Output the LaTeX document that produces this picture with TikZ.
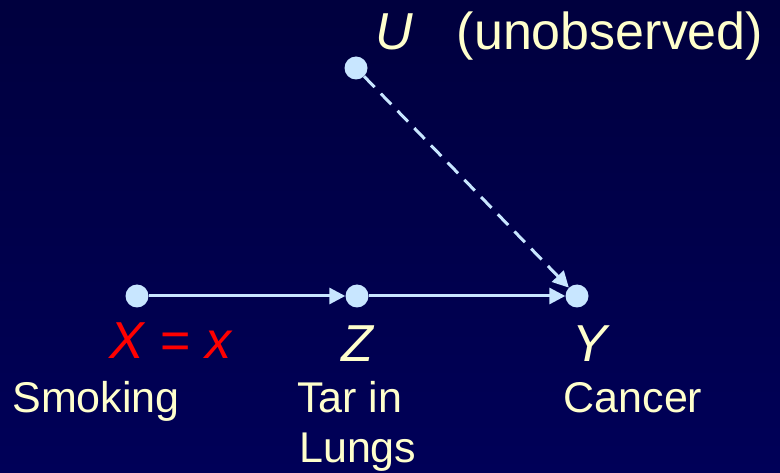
\documentclass[tikz,border=0pt]{standalone}
\usepackage{fontspec}
\setmainfont{Liberation Sans}
\usetikzlibrary{arrows.meta}
\definecolor{slidetop}{HTML}{00003E}
\definecolor{slidebot}{HTML}{000058}
\definecolor{nodeblue}{HTML}{C8E6FF}
\definecolor{labelcream}{HTML}{FFFFCC}

\begin{document}
\begin{tikzpicture}[x=1pt, y=-1pt,
  var/.style={circle, fill=nodeblue, inner sep=0pt, minimum size=23pt},
  link/.style={nodeblue, line width=3pt, -{Triangle[length=16pt, width=16pt]}},
  lbl/.style={text=labelcream, inner sep=0pt, anchor=base},
  biglbl/.style={lbl, font=\fontsize{52}{60}\selectfont},
  smalllbl/.style={lbl, font=\fontsize{43}{49}\selectfont}]

  % ---------- background ----------
  \fill[top color=slidetop, bottom color=slidebot] (0,0) rectangle (780,473);
  \useasboundingbox (0,0) rectangle (780,473);

  % ---------- variables ----------
  \node[var] (x) at (137,296) {};
  \node[var] (z) at (357,296) {};
  \node[var] (y) at (577,296) {};
  \node[var] (u) at (356,68) {};

  % ---------- edges ----------
  \draw[link] (x) -- (z);
  \draw[link] (z) -- (y);
  \draw[link, dash pattern=on 15pt off 9pt] (u) -- (y);

  % ---------- labels ----------
  \node[biglbl, text=red] (xlbl) at (171,359) {\textit{X} = \textit{x}};
  \node[biglbl] (zlbl) at (358,362) {\textit{Z}};
  \node[biglbl] (ylbl) at (591,362) {\textit{Y}};
  \node[biglbl] (ulbl) at (394,50) {\textit{U}};
  \node[biglbl] (unobs) at (610,50) {(unobserved)};

  \node[smalllbl] (smoking) at (96,413) {Smoking};
  \node[smalllbl, anchor=base west] (tar) at (297,413) {Tar in};
  \node[smalllbl, anchor=base west] (lungs) at (299,462) {Lungs};
  \node[smalllbl] (cancer) at (633,413) {Cancer};
\end{tikzpicture}
\end{document}
